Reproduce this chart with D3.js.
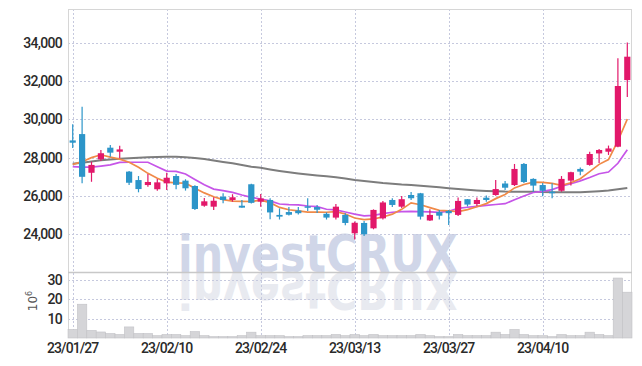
<!DOCTYPE html>
<html>
<head>
<meta charset="utf-8">
<script src="https://cdn.jsdelivr.net/npm/d3@7"></script>
<style>
  html, body { margin: 0; padding: 0; background: #ffffff; }
  svg { display: block; }
</style>
</head>
<body>
<svg id="chart" width="642" height="366"></svg>
<script>
const dates = ["23/01/27","23/01/30","23/01/31","23/02/01","23/02/02","23/02/03","23/02/06","23/02/07","23/02/08","23/02/09",
  "23/02/10","23/02/13","23/02/14","23/02/15","23/02/16","23/02/17","23/02/20","23/02/21","23/02/22","23/02/23",
  "23/02/24","23/02/27","23/02/28","23/03/02","23/03/03","23/03/06","23/03/07","23/03/08","23/03/09","23/03/10",
  "23/03/13","23/03/14","23/03/15","23/03/16","23/03/17","23/03/20","23/03/21","23/03/22","23/03/23","23/03/24",
  "23/03/27","23/03/28","23/03/29","23/03/30","23/03/31","23/04/03","23/04/04","23/04/05","23/04/06","23/04/07",
  "23/04/10","23/04/11","23/04/12","23/04/13","23/04/14","23/04/17","23/04/18","23/04/19","23/04/20","23/04/21"];

const openP  = [28900,29230,27210,27910,28520,28310,27270,26830,26570,26350,
  26660,27040,26800,26520,25490,25440,25960,25790,25490,26610,
  25700,25790,25010,25160,25240,25460,25420,25070,24870,25010,
  24050,24590,24310,24830,25790,25440,26050,26140,24720,25160,
  25220,25010,25830,25580,25910,26050,26650,26570,27670,26890,
  26570,26220,26270,26800,27410,27620,28220,28310,28570,32050];
const highP  = [29740,30660,27790,28400,28660,28620,27300,27040,27150,26880,
  27210,27150,26870,26560,25890,25930,26140,26090,25790,26640,
  26100,25880,25350,25420,25420,25880,25530,25140,25580,25100,
  24670,24690,25300,25740,25880,26000,26210,26160,25300,25270,
  25270,25920,25840,25920,26030,26830,26780,27670,27720,26920,
  26680,26660,27040,27270,27480,28310,28450,28630,33190,34010];
const lowP   = [28500,26660,26740,27830,28050,27970,26570,26190,26480,26270,
  26310,26350,26280,25270,25440,25270,25620,25700,25380,25600,
  25440,24780,24770,24980,25030,25220,25110,24770,24770,24470,
  23730,23910,24260,24770,25420,25370,25790,24770,24690,24770,
  24480,24960,25450,25480,25700,26010,26310,26520,26680,26220,
  25980,25880,26220,26550,27080,27580,27720,28140,28540,31170];
const closeP = [28780,27000,27620,28230,28260,28430,26690,26360,26730,26710,
  26950,26580,26400,25320,25720,25750,25790,25930,25390,25640,
  25870,25140,24920,25020,25100,25390,25280,24870,25440,24590,
  24600,24000,25270,25660,25530,25830,25880,24920,25010,24970,
  25100,25740,25550,25790,25790,26360,26430,27410,26730,26540,
  26270,26180,26890,27240,27270,28190,28400,28480,31740,33270];

const ma5  = [27640,27790,28000,28150,28030,27920,27760,27500,27180,26920,
  26720,26680,26665,26400,26160,25960,25810,25730,25720,25710,
  25780,25650,25400,25280,25220,25160,25160,25150,25180,25060,
  24850,24760,24800,24900,25050,25300,25640,25540,25390,25250,
  25220,25180,25290,25435,25600,25860,26080,26420,26600,26720,
  26710,26660,26550,26690,26900,27270,27650,27900,28870,30010];
const ma20 = [27530,27500,27510,27560,27620,27750,27760,27760,27760,27530,
  27300,27280,27150,26860,26580,26360,26275,26190,26050,25930,
  25840,25740,25580,25545,25530,25475,25440,25305,25270,25160,
  25050,24960,24990,25080,25150,25180,25190,25180,25165,25140,
  25200,25355,25410,25460,25510,25555,25595,25805,26000,26180,
  26235,26330,26505,26635,26790,26965,27160,27250,27705,28415];
const ma60 = [27684,27736,27799,27867,27903,27940,27971,27997,28018,28039,
  28049,28044,28023,27981,27929,27851,27773,27705,27616,27527,
  27470,27381,27303,27235,27172,27115,27068,27026,26974,26911,
  26833,26781,26728,26676,26635,26598,26572,26535,26494,26452,
  26405,26363,26321,26285,26259,26243,26227,26222,26222,26217,
  26206,26196,26191,26191,26196,26217,26248,26285,26347,26415];

const volume = [4.4,17.4,3.9,3.1,2.3,1.8,5.7,2.3,2.3,1.2,
  1.8,1.8,1.2,3.3,1.2,0.7,0.7,0.7,1.2,3.0,
  1.2,1.2,1.2,0.7,0.7,1.2,1.2,1.2,1.8,1.2,
  1.8,1.2,1.8,1.2,1.2,1.2,1.2,1.8,1.2,0.7,
  0.7,1.8,1.2,1.2,1.2,3.0,1.8,4.4,1.8,1.2,
  1.2,0.7,1.8,1.2,1.2,3.0,1.8,1.2,30.9,23.6];

const priceTicks = [24000,26000,28000,30000,32000,34000];
const volTicks = [10,20,30];
const dateTicks = ["23/01/27","23/02/10","23/02/24","23/03/13","23/03/27","23/04/10"];

const svg = d3.select("#chart");
const L = 68, R = 632, T = 9, MB = 272, VB = 338;

const x = d3.scaleBand().domain(dates).range([L, R]).padding(0);
const y = d3.scaleLinear().domain([22030, 35760]).range([MB, T]);
const yv = d3.scaleLinear().domain([0, 34]).range([VB, MB]);
const cx = d => x(d) + x.bandwidth() / 2;

const UP = "#e2186a", DOWN = "#2c95c9";
const gridColor = "#c6c9de";

// watermark
const wmFont = "'DejaVu Sans', 'Liberation Sans', sans-serif";
const wm = svg.append("g");
wm.append("text").attr("x", 178).attr("y", 271.7)
  .attr("font-family", wmFont).attr("font-weight", "bold")
  .attr("font-size", 52).attr("fill", "#d0d6e8")
  .attr("textLength", 280).attr("lengthAdjust", "spacingAndGlyphs")
  .text("investCRUX");
wm.append("g").attr("transform", `translate(0,${2 * 272}) scale(1,-1)`)
  .append("text").attr("x", 178).attr("y", 271.7)
  .attr("font-family", wmFont).attr("font-weight", "bold")
  .attr("font-size", 52).attr("fill", "#e8eaf0")
  .attr("textLength", 280).attr("lengthAdjust", "spacingAndGlyphs")
  .text("investCRUX");

// grid
const grid = svg.append("g").attr("stroke", gridColor).attr("stroke-dasharray", "2,2").attr("stroke-width", 1);
grid.selectAll(".hg").data(priceTicks).join("line")
  .attr("x1", L).attr("x2", R).attr("y1", d => Math.round(y(d)) + 0.5).attr("y2", d => Math.round(y(d)) + 0.5);
grid.selectAll(".vg").data(volTicks).join("line")
  .attr("x1", L).attr("x2", R).attr("y1", d => Math.round(yv(d)) + 0.5).attr("y2", d => Math.round(yv(d)) + 0.5);
grid.selectAll(".xg").data(dateTicks).join("line")
  .attr("x1", d => Math.round(cx(d)) + 0.5).attr("x2", d => Math.round(cx(d)) + 0.5)
  .attr("y1", T).attr("y2", VB);

// borders
const bc = "#d6d6d6";
svg.append("line").attr("x1", L + 0.5).attr("x2", L + 0.5).attr("y1", T).attr("y2", VB).attr("stroke", bc);
svg.append("line").attr("x1", R - 0.5).attr("x2", R - 0.5).attr("y1", T).attr("y2", VB).attr("stroke", bc);
svg.append("line").attr("x1", L).attr("x2", R).attr("y1", T + 0.5).attr("y2", T + 0.5).attr("stroke", bc);
svg.append("line").attr("x1", L).attr("x2", R).attr("y1", MB + 0.5).attr("y2", MB + 0.5).attr("stroke", "#c8c8c8").attr("stroke-width", 1.5);

// volume bars
svg.append("g").selectAll("rect").data(dates).join("rect")
  .attr("x", d => x(d)).attr("width", x.bandwidth())
  .attr("y", (d, i) => yv(volume[i])).attr("height", (d, i) => VB - yv(volume[i]))
  .attr("fill", "#d5d5d8").attr("stroke", "#c2c2c6").attr("stroke-width", 0.6);

// MA lines
const line = arr => d3.line().x((d, i) => cx(dates[i])).y(d => y(d))(arr);
svg.append("path").attr("d", line(ma60)).attr("fill", "none").attr("stroke", "#7d7d7d").attr("stroke-width", 2);
svg.append("path").attr("d", line(ma20)).attr("fill", "none").attr("stroke", "#c655e8").attr("stroke-width", 1.7);
svg.append("path").attr("d", line(ma5)).attr("fill", "none").attr("stroke", "#f08a48").attr("stroke-width", 1.7);

// candles
const cg = svg.append("g");
const bw = 6.2;
dates.forEach((d, i) => {
  const up = closeP[i] >= openP[i];
  const col = up ? UP : DOWN;
  const xc = cx(d);
  cg.append("line").attr("x1", xc).attr("x2", xc)
    .attr("y1", y(highP[i])).attr("y2", y(lowP[i])).attr("stroke", col).attr("stroke-width", 1.2);
  const top = y(Math.max(openP[i], closeP[i])), bot = y(Math.min(openP[i], closeP[i]));
  cg.append("rect").attr("x", xc - bw / 2).attr("width", bw)
    .attr("y", top).attr("height", Math.max(1.5, bot - top)).attr("fill", col);
});

// axis labels
const lblFont = "Roboto, 'Liberation Sans', sans-serif";
svg.append("g").selectAll("text").data(priceTicks).join("text")
  .attr("x", 62).attr("y", d => y(d)).attr("dy", "0.36em").attr("text-anchor", "end")
  .attr("font-family", lblFont).attr("font-weight", 500).attr("font-size", 14)
  .attr("letter-spacing", "-0.7").attr("fill", "#2a2a2a")
  .text(d => d3.format(",")(d));
svg.append("g").selectAll("text").data(volTicks).join("text")
  .attr("x", 62).attr("y", d => yv(d)).attr("dy", "0.36em").attr("text-anchor", "end")
  .attr("font-family", lblFont).attr("font-weight", 500).attr("font-size", 14)
  .attr("letter-spacing", "-0.7").attr("fill", "#2a2a2a")
  .text(d => d);
svg.append("g").selectAll("text").data(dateTicks).join("text")
  .attr("x", d => cx(d)).attr("y", 353).attr("text-anchor", "middle")
  .attr("font-family", lblFont).attr("font-weight", 500).attr("font-size", 14)
  .attr("letter-spacing", "-0.9").attr("fill", "#2a2a2a")
  .text(d => d);

const unit = svg.append("text").attr("transform", "translate(37,301) rotate(-90)")
  .attr("text-anchor", "middle").attr("font-family", "'DejaVu Sans', sans-serif")
  .attr("font-size", 12).attr("fill", "#555");
unit.append("tspan").text("10");
unit.append("tspan").attr("font-size", 8).attr("dy", -5).text("6");
</script>
</body>
</html>
